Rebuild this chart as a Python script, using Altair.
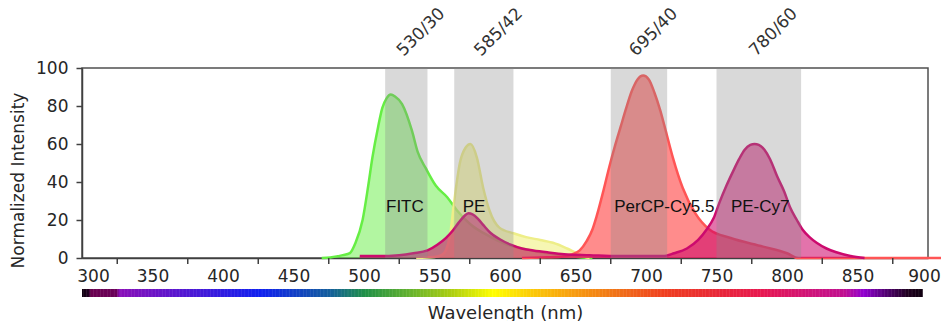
import altair as alt
import pandas as pd
import numpy as np

# ---- data ----
fitc_wl = [470, 476, 485, 490, 494, 499, 503, 506, 510, 513, 516, 519, 522, 527, 534, 538, 544, 551, 559, 566, 575, 590, 600, 615, 630, 645, 655, 662]
fitc_int = [0, 0.3, 1.5, 2.6, 8, 20, 38, 53, 69, 79, 84, 86, 85, 81, 67, 56, 47, 38, 32, 25, 18, 11, 7.5, 4.5, 2.5, 1, 0.3, 0]

pe_wl = [537, 550, 555, 558, 561, 564, 568, 572, 575.5, 580, 584.5, 589, 596, 606, 615, 625, 634, 644, 651, 657, 660]
pe_int = [0, 0.5, 1.5, 4, 12, 30, 50, 58, 60, 53, 37, 25, 16, 13, 11, 9.5, 8, 5, 2.5, 0.5, 0]

percp_wl = [612, 625, 640, 648, 653, 658, 662, 665, 670, 674, 678, 682, 686, 690, 694, 698, 702, 706, 710, 714, 719, 726, 735, 745, 760, 783, 800, 808, 915]
percp_int = [0, 0.3, 0.7, 2, 4, 9, 15, 22, 36, 48, 59, 69, 79, 88, 94, 96, 94, 87, 78, 67, 53, 37, 23.5, 15, 10.5, 6, 2.5, 0, 0]

pecy7_wl = [497, 510, 525, 535, 545, 552, 558, 563, 567, 571, 574, 577, 581, 585, 590, 596, 604, 612, 620, 630, 642, 660, 680, 700, 712, 720, 729, 737, 743, 748, 752, 757, 762, 766, 770, 774, 777, 780, 784, 788, 793, 798, 802, 807, 811, 816, 821, 828, 835, 845, 855]
pecy7_int = [1, 1, 1.5, 2.5, 4, 7, 10.5, 14.5, 18.5, 22, 23.5, 23, 20.5, 17, 13, 10, 7, 5, 4, 3, 2, 1.5, 1, 1, 1, 2.5, 5, 9.5, 15, 21, 29, 38, 46, 52, 57, 59.5, 60, 59.5, 57, 52, 43, 35, 27, 20, 15, 11, 8, 5, 3, 1, 0]

dye_names = ["FITC", "PE", "PerCP-Cy5.5", "PE-Cy7"]
dye_label_wl = [529, 578, 713, 781]
dye_label_int = [27, 27, 27, 27]

band_names = ["530/30", "585/42", "695/40", "780/60"]
band_center = [530, 585, 695, 780]
band_lo = [515, 564, 675, 750]
band_hi = [545, 606, 715, 810]

x_label_values = [300, 350, 400, 450, 500, 550, 600, 650, 700, 750, 800, 850, 900]
x_tick_values = [325, 375, 425, 475, 525, 575, 625, 675, 725, 775, 825, 875]
y_values = [0, 20, 40, 60, 80, 100]

spectrum_stops = [300, 304, 306, 324, 326, 426, 476, 500, 530, 563, 591, 620, 646, 680, 712, 750, 781, 815, 840, 854, 870, 885, 896]
spectrum_colors = ["#100010", "#200020", "#6a0050", "#6a0058", "#8a10b8", "#1020f0", "#14609a", "#209048", "#60b030", "#b0d010", "#ffff00", "#fbc808", "#f8a010", "#f07018", "#f04020", "#e82838", "#e81850", "#d01478", "#c01090", "#9000d0", "#500070", "#200020", "#100010"]

FONT = "DejaVu Sans"
LABEL_FONT = "Liberation Sans"

xscale = alt.Scale(domain=[300, 900], nice=False, zero=False)
yscale = alt.Scale(domain=[0, 100], nice=False)

xaxis = alt.Axis(values=x_label_values, ticks=False, labelPadding=10, labelFontSize=17, labelFlush=False,
                 labelFont=FONT, labelColor="#262626", domainColor="#404040", domainWidth=1.5,
                 grid=False, title="Wavelength (nm)", titleFont=FONT, titleFontSize=18,
                 titleFontWeight="normal", titleColor="#262626", titleBaseline="top", titleY=46,
                 labelOffset={"condition": [{"test": "datum.value == 300", "value": 11},
                                            {"test": "datum.value == 900", "value": -4}], "value": 0})
yaxis = alt.Axis(values=y_values, tickSize=6, tickColor="#404040", tickWidth=1.5, labelPadding=8,
                 labelFontSize=17, labelFont=FONT, labelColor="#262626", domainColor="#404040",
                 domainWidth=1.5, grid=False, title="Normalized Intensity", titleFont=FONT,
                 titleFontSize=17, titleFontWeight="normal", titleColor="#262626",
                 titleX=-64, titleY=112, titleAngle=-90, titleAlign="center", titleBaseline="middle")


def X(field):
    return alt.X(field, scale=xscale, axis=xaxis)


def Y(field):
    return alt.Y(field, scale=yscale, axis=yaxis)


def df(wl, it):
    return pd.DataFrame({"wl": wl, "int": it})


dyes = [
    (fitc_wl, fitc_int, "#66ee44", 0.5, "#66ee44"),
    (pe_wl, pe_int, "#f0f080", 0.6, "#eeee88"),
    (percp_wl, percp_int, "#ff5050", 0.66, "#ff5555"),
    (pecy7_wl, pecy7_int, "#cc0066", 0.55, "#cc0a6e"),
]

layers = []
for wl, it, fc, op, lc in dyes:
    d = df(wl, it)
    layers.append(alt.Chart(d).mark_area(interpolate="monotone", color=fc, opacity=op).encode(
        x=X("wl:Q"), y=Y("int:Q")))
    layers.append(alt.Chart(d).mark_line(interpolate="monotone", color=lc, strokeWidth=2.5).encode(
        x=X("wl:Q"), y=Y("int:Q")))

bands = pd.DataFrame({"name": band_names, "c": band_center, "lo": band_lo, "hi": band_hi})
layers.append(alt.Chart(bands).mark_rect(color="#888888", opacity=0.32).encode(
    x=X("lo:Q"), x2="hi:Q", y=alt.value(0), y2=alt.value(190)))

layers.append(alt.Chart(bands).mark_text(angle=315, align="left", baseline="alphabetic", dx=-2, dy=-2,
                                         font=FONT, fontSize=17, color="#333333").encode(
    x=X("c:Q"), y=alt.value(-11), text="name:N"))

dl = pd.DataFrame({"name": dye_names, "wl": dye_label_wl, "int": dye_label_int})
layers.append(alt.Chart(dl).mark_text(font=LABEL_FONT, fontSize=17, color="#111111", baseline="middle").encode(
    x=X("wl:Q"), y=Y("int:Q"), text="name:N"))

ticks = pd.DataFrame({"t": x_tick_values})
layers.append(alt.Chart(ticks).mark_rule(color="#404040", strokeWidth=1.5).encode(
    x=X("t:Q"), y=alt.value(190), y2=alt.value(196)))

spec_wl = np.arange(300, 896, 1)
spec = pd.DataFrame({"w": spec_wl, "w2": spec_wl + 1.3})
layers.append(alt.Chart(spec).mark_rect(strokeWidth=0).encode(
    x=X("w:Q"), x2="w2:Q", y=alt.value(221), y2=alt.value(229),
    color=alt.Color("w:Q", scale=alt.Scale(domain=spectrum_stops, range=spectrum_colors, interpolate="rgb"), legend=None)))

chart = alt.layer(*layers).properties(
    width=846, height=190,
    autosize=alt.AutoSizeParams(type="none"),
    padding={"left": 74, "top": 60, "right": 13, "bottom": 63},
).configure_view(stroke="#505050", strokeWidth=1.5)

chart.save("out.html", embed_options={"renderer": "svg", "actions": False})
